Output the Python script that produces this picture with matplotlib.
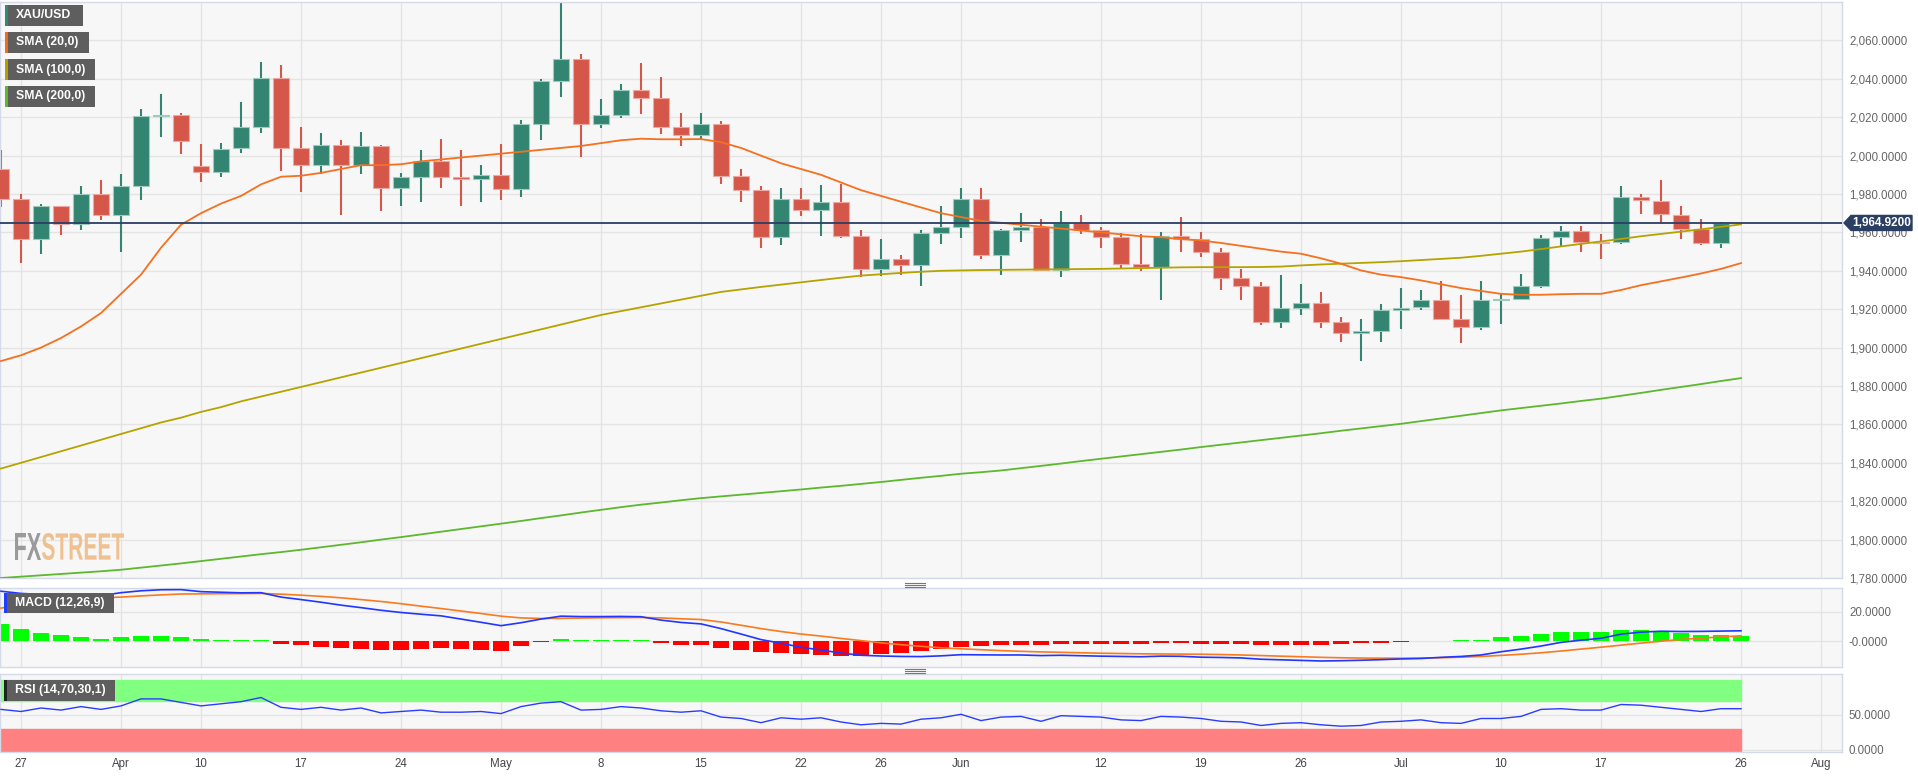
import numpy as np
import pandas as pd
import matplotlib
matplotlib.use('Agg')
import matplotlib.pyplot as plt
from matplotlib.patches import Rectangle, Polygon, PathPatch
from matplotlib.textpath import TextPath
from matplotlib.font_manager import FontProperties
from matplotlib.transforms import Affine2D, blended_transform_factory
from matplotlib.ticker import FuncFormatter

plt.rcParams['font.family'] = ['Liberation Sans', 'DejaVu Sans']

# trading days on the chart (Good Friday is missing)
days = pd.bdate_range('2023-03-24', '2023-08-01')
days = days[days != pd.Timestamp('2023-04-07')]

tick_dates = ['2023-03-27', '2023-04-03', '2023-04-10', '2023-04-17', '2023-04-24',
              '2023-05-01', '2023-05-08', '2023-05-15', '2023-05-22', '2023-05-26',
              '2023-06-01', '2023-06-12', '2023-06-19', '2023-06-26', '2023-07-03',
              '2023-07-10', '2023-07-17', '2023-07-26', '2023-08-01']
tick_labels = ['27', 'Apr', '10', '17', '24', 'May', '8', '15', '22', '26',
               'Jun', '12', '19', '26', 'Jul', '10', '17', '26', 'Aug']

# daily candles, Mar 24 .. Jul 25
opens = [1993.2, 1977.2, 1956.7, 1973.5, 1964.5, 1980.1, 1968.9, 1984.3, 2020.4, 2021.0,
         1994.4, 1991.4, 2003.8, 2014.9, 2040.2, 2004.1, 1995.1, 2005.3, 1995.1, 2004.8,
         1982.9, 1989.0, 1997.3, 1988.8, 1987.6, 1989.7, 1982.4, 2016.6, 2039.0, 2050.3,
         2016.6, 2021.1, 2034.3, 2030.0, 2015.0, 2010.7, 2016.4, 1989.5, 1982.0, 1957.5,
         1977.5, 1971.5, 1976.0, 1958.0, 1941.0, 1946.0, 1943.0, 1959.5, 1963.0, 1977.5,
         1948.0, 1961.0, 1963.0, 1940.5, 1965.0, 1961.0, 1957.5, 1943.5, 1942.0, 1958.0,
         1956.5, 1950.0, 1936.0, 1932.0, 1913.5, 1920.5, 1923.0, 1913.5, 1907.5, 1908.5,
         1919.5, 1921.4, 1924.6, 1915.0, 1910.7, 1924.6, 1925.1, 1932.0, 1957.4, 1960.5,
         1955.1, 1954.9, 1978.4, 1976.5, 1969.2, 1961.6, 1954.6]
highs = [2002.7, 1980.1, 1974.9, 1974.0, 1984.0, 1987.1, 1990.2, 2024.4, 2032.0, 2022.0,
         2006.2, 2006.7, 2027.9, 2048.7, 2047.0, 2014.9, 2011.7, 2007.9, 2012.1, 2005.3,
         1990.9, 2003.1, 2008.8, 2003.1, 1994.9, 2005.8, 2018.7, 2040.0, 2079.4, 2052.7,
         2029.3, 2037.1, 2048.2, 2040.7, 2022.0, 2022.0, 2017.8, 1993.0, 1984.0, 1983.0,
         1983.0, 1984.5, 1985.0, 1961.0, 1956.5, 1948.0, 1961.0, 1974.0, 1983.0, 1983.0,
         1962.0, 1970.0, 1967.0, 1971.0, 1969.0, 1963.0, 1959.5, 1959.0, 1960.0, 1968.0,
         1960.0, 1952.0, 1941.0, 1934.0, 1938.0, 1933.0, 1929.0, 1916.0, 1915.0, 1922.8,
         1931.0, 1930.1, 1934.5, 1927.2, 1934.5, 1928.0, 1938.1, 1958.8, 1963.1, 1963.1,
         1959.3, 1984.0, 1980.1, 1987.1, 1973.5, 1967.1, 1965.4]
lows = [1973.0, 1944.0, 1949.0, 1958.4, 1961.0, 1966.2, 1950.0, 1976.7, 2009.7, 2001.0,
        1986.2, 1988.8, 2001.5, 2012.0, 1992.0, 1981.0, 1990.5, 1968.9, 1990.2, 1971.1,
        1973.5, 1975.8, 1983.1, 1973.5, 1975.8, 1977.0, 1978.4, 2008.0, 2030.5, 1999.2,
        2014.3, 2019.5, 2021.6, 2011.4, 2005.0, 2008.0, 1985.0, 1975.6, 1952.0, 1953.6,
        1968.6, 1958.0, 1957.0, 1937.0, 1937.5, 1938.0, 1932.0, 1954.0, 1957.0, 1946.0,
        1938.0, 1955.0, 1940.0, 1937.0, 1959.0, 1952.0, 1941.0, 1940.0, 1925.0, 1950.0,
        1947.0, 1930.0, 1925.0, 1912.0, 1910.0, 1917.0, 1910.0, 1903.0, 1893.0, 1903.0,
        1909.8, 1919.7, 1914.2, 1902.4, 1909.3, 1912.4, 1924.6, 1931.0, 1952.2, 1950.0,
        1946.0, 1954.1, 1969.7, 1964.9, 1956.7, 1953.2, 1952.0]
closes = [1977.2, 1956.7, 1973.5, 1964.5, 1980.1, 1968.9, 1984.3, 2020.4, 2021.0, 2007.7,
          1991.4, 2003.6, 2014.9, 2040.2, 2004.1, 1995.1, 2005.3, 1995.1, 2004.8, 1982.9,
          1989.0, 1997.3, 1988.8, 1987.6, 1989.7, 1982.4, 2016.6, 2039.0, 2050.3, 2016.6,
          2021.1, 2034.3, 2030.0, 2015.0, 2010.7, 2016.4, 1989.5, 1982.0, 1957.5, 1977.5,
          1971.5, 1976.0, 1958.0, 1941.0, 1946.0, 1943.0, 1959.5, 1963.0, 1977.5, 1948.0,
          1961.0, 1963.0, 1940.5, 1965.0, 1961.0, 1957.5, 1943.5, 1942.0, 1958.0, 1956.5,
          1950.0, 1936.0, 1932.0, 1913.5, 1920.5, 1923.0, 1913.5, 1907.5, 1908.5, 1919.5,
          1920.8, 1924.6, 1915.0, 1910.7, 1924.6, 1925.0, 1931.9, 1957.2, 1960.5, 1955.1,
          1954.5, 1978.4, 1976.7, 1969.4, 1961.6, 1954.6, 1964.92]

# indicator lines, Mar 24 .. Jul 26
sma20 = [1893, 1896, 1900, 1905, 1911, 1918, 1928, 1938, 1952, 1964,
         1970, 1975, 1979, 1985, 1989, 1989.5, 1991, 1993, 1995, 1995,
         1995.5, 1997, 1998, 1999, 2000, 2001, 2002, 2003, 2004, 2005,
         2006.5, 2008, 2008.8, 2008.5, 2008.5, 2008.6, 2007, 2004, 2000, 1996,
         1993, 1990, 1986, 1982, 1979, 1976, 1973, 1970, 1968, 1966,
         1965, 1964, 1963, 1962, 1961, 1960, 1959, 1958, 1957.5, 1956.5,
         1955.8, 1954.5, 1953, 1951.5, 1950, 1948.9, 1946.5, 1943.7, 1940.2, 1938,
         1936.7, 1935, 1933, 1931, 1929.5, 1928, 1927.5, 1927.5, 1927.8, 1928,
         1928, 1930, 1932.5, 1934.5, 1936.5, 1938.6, 1941, 1944]
sma100 = [1837, 1840, 1843, 1846, 1849, 1852, 1855, 1858, 1861, 1863.5,
          1866.5, 1869, 1872, 1874.5, 1877, 1879.5, 1882, 1884.5, 1887, 1889.5,
          1892, 1894.5, 1897, 1899.5, 1902, 1904.5, 1907, 1909.5, 1912, 1914.5,
          1917, 1919, 1921, 1923, 1925, 1927, 1929, 1930.3, 1931.6, 1932.8,
          1934, 1935.2, 1936.4, 1937.5, 1938.2, 1938.9, 1939.5, 1940, 1940.2, 1940.4,
          1940.5, 1940.6, 1940.7, 1940.8, 1940.9, 1941, 1941.2, 1941.4, 1941.6, 1941.8,
          1941.9, 1941.9, 1941.9, 1942, 1942.2, 1942.8, 1943.3, 1943.7, 1944.1, 1944.5,
          1945, 1945.6, 1946.2, 1946.8, 1947.8, 1948.9, 1950, 1951.3, 1952.7, 1954,
          1955.3, 1956.6, 1958, 1959.2, 1960.4, 1961.6, 1962.9, 1964.2]
sma200 = [1780, 1780.7, 1781.4, 1782.1, 1782.8, 1783.5, 1784.3, 1785.4, 1786.5, 1787.6,
          1788.8, 1790, 1791.2, 1792.4, 1793.5, 1794.7, 1796, 1797.3, 1798.6, 1800,
          1801.3, 1802.7, 1804.1, 1805.5, 1806.9, 1808.3, 1809.7, 1811.2, 1812.6, 1814.1,
          1815.5, 1816.9, 1818.2, 1819.3, 1820.5, 1821.6, 1822.5, 1823.4, 1824.3, 1825.2,
          1826.1, 1827.1, 1828, 1829, 1830, 1831.1, 1832.2, 1833.2, 1834.3, 1835.1,
          1836, 1837.2, 1838.4, 1839.6, 1840.9, 1842.1, 1843.3, 1844.5, 1845.7, 1846.9,
          1848.2, 1849.4, 1850.6, 1851.8, 1853, 1854.2, 1855.4, 1856.7, 1857.9, 1859.1,
          1860.3, 1861.7, 1863.1, 1864.5, 1865.9, 1867.3, 1868.5, 1869.7, 1870.9, 1872.2,
          1873.4, 1874.9, 1876.4, 1878, 1879.5, 1881, 1882.6, 1884.1]

macd_line = [34, 32.5, 31.8, 31.3, 31, 31, 33, 34.3, 35, 35.1,
             33.7, 33.3, 32.9, 33, 30, 28.3, 26.5, 24.5, 22.8, 21,
             19.5, 18.3, 17.2, 15, 12.8, 10.5, 12.5, 15, 17, 16.7,
             16.7, 16.8, 16.6, 14.3, 12.7, 11.7, 8.5, 4.8, 1, -1.5,
             -4.2, -6.1, -8.2, -9.7, -10.2, -10.5, -10.6, -10.1, -9.3, -9.4,
             -9.5, -9.5, -9.9, -9.7, -10, -10.3, -10.5, -10.7, -10.3, -10.4,
             -11, -11.2, -11.5, -12.4, -12.8, -13.2, -13.6, -13.4, -13.1, -12.7,
             -12.2, -11.9, -11.1, -10.5, -9.5, -7.3, -5.5, -3.4, -0.9, 0.6,
             1.9, 4.7, 6.1, 6.7, 6.5, 6.6, 6.8, 7.0]
macd_signal = [22.5, 24.5, 26.3, 27.3, 28.5, 29.5, 30, 30.8, 31.5, 32.1,
               32.2, 32.3, 32.4, 32.5, 32, 31.3, 30.5, 29.5, 28.3, 27,
               25.5, 23.8, 22.2, 20.5, 18.8, 17, 15.8, 15.4, 15.5, 15.7,
               15.9, 16, 16.1, 15.8, 15.2, 14.7, 13, 10.8, 8.5, 6.5,
               4.8, 3.4, 1.8, 0.3, -1.2, -2.5, -3.6, -4.6, -5.3, -5.9,
               -6.5, -7, -7.4, -7.7, -8, -8.3, -8.5, -8.7, -8.8, -8.9,
               -9, -9.2, -9.5, -9.9, -10.3, -10.7, -11.1, -11.4, -11.6, -11.7,
               -11.7, -11.6, -11.4, -11, -10.5, -9.8, -9, -8, -6.8, -5.5,
               -4.2, -2.8, -1.4, -0.1, 1.1, 2, 2.8, 3.6]
macd_hist = [11.5, 8, 5.5, 4, 2.5, 1.5, 3, 3.5, 3.5, 3,
             1.5, 1, 0.5, 0.5, -2, -3, -4, -5, -5.5, -6,
             -6, -5.5, -5, -5.5, -6, -6.5, -3.3, -0.4, 1.5, 1,
             0.8, 0.8, 0.5, -1.5, -2.5, -3, -4.5, -6, -7.5, -8,
             -9, -9.5, -10, -10, -9, -8, -7, -5.5, -4, -3.5,
             -3, -2.5, -2.5, -2, -2, -2, -2, -2, -1.5, -1.5,
             -2, -2, -2, -2.5, -2.5, -2.5, -2.5, -2, -1.5, -1,
             -0.5, -0.3, 0.3, 0.5, 1, 2.5, 3.5, 4.6, 5.9, 6.1,
             6.1, 7.5, 7.5, 6.8, 5.2, 4.4, 3.8, 3.2]
rsi = [58, 55, 60, 57, 62, 58, 63, 73, 73, 68,
       63, 66, 69, 75, 61, 58, 61, 57, 60, 53,
       55, 57, 54, 54, 55, 52, 62, 67, 69, 57,
       58, 62, 60, 56, 54, 56, 47, 45, 39, 46,
       44, 46, 40, 36, 38, 37, 44, 46, 51, 42,
       47, 48, 41, 49, 48, 47, 43, 42, 48, 47,
       45, 41, 40, 35, 38, 39, 36, 34, 35, 40,
       41, 43, 39, 38, 45, 45, 48, 58, 59, 57,
       57, 65, 64, 61, 58, 55, 59, 59]

legend_items = [('XAU/USD', '#2e8b74'), ('SMA (20,0)', '#f26b1d'),
                ('SMA (100,0)', '#b5a000'), ('SMA (200,0)', '#5cb82e')]

W, H = 1918, 778
up_col, up_edge = '#338572', '#9fcbbf'
dn_col, dn_edge = '#d4574a', '#eeaaa2'
panel_bg = '#f7f7f7'
grid_col = '#e4e4e4'
border_col = '#d5dae9'


def box(top, bottom, left=0, right=1842):
    return [left / W, 1 - bottom / H, (right - left) / W, (bottom - top) / H]


fig = plt.figure(figsize=(W / 100, H / 100), dpi=100)
fig.patch.set_facecolor('white')
ax = fig.add_axes(box(2, 578))
ax_macd = fig.add_axes(box(588, 667), sharex=ax)
ax_rsi = fig.add_axes(box(674, 752), sharex=ax)

tick_pos = [days.get_loc(pd.Timestamp(d)) for d in tick_dates]
for a in (ax, ax_macd, ax_rsi):
    a.set_facecolor(panel_bg)
    for s in a.spines.values():
        s.set_color(border_col)
        s.set_linewidth(1)
    a.set_xticks(tick_pos)
    a.grid(True, color=grid_col, lw=1)
    a.set_axisbelow(True)
    a.yaxis.tick_right()
    a.tick_params(axis='both', length=0, labelsize=8.3, labelcolor='#666666', pad=5)
ax.set_xlim(-0.05, 92.05)
ax.tick_params(axis='x', labelbottom=False)
ax_macd.tick_params(axis='x', labelbottom=False)
ax_rsi.set_xticklabels(tick_labels)
ax_rsi.tick_params(axis='x', labelcolor='#444444', labelsize=8.3, pad=4)

# price panel
xc = np.arange(len(closes))
xl = np.arange(len(sma20))
for xi, o, h, l, c in zip(xc, opens, highs, lows, closes):
    up = c >= o
    col = up_col if up else dn_col
    ax.vlines(xi, l, h, color=col, lw=1.5, zorder=2)
    ax.add_patch(Rectangle((xi - 0.4, min(o, c)), 0.8, max(abs(c - o), 0.6),
                           fc=col, ec=up_edge if up else dn_edge, lw=0.8, zorder=3))
ax.plot(xl, sma200, color='#5cb82e', lw=1.3, zorder=4)
ax.plot(xl, sma100, color='#b5a300', lw=1.3, zorder=4)
ax.plot(xl, sma20, color='#f5701f', lw=1.3, zorder=4)
last = closes[-1]
ax.axhline(last, color='#2b3f63', lw=1.3, zorder=5)
ax.set_ylim(1780, 2080)
ax.set_yticks(np.arange(1780, 2061, 20))
ax.yaxis.set_major_formatter(FuncFormatter(lambda v, p: f'{v:,.4f}'))

# last price tag
tr = blended_transform_factory(fig.transFigure, ax.transData)
hh = 7.5 / 1.92
ax.add_patch(Polygon([(1844 / W, last), (1851 / W, last + hh), (1912 / W, last + hh),
                      (1912 / W, last - hh), (1851 / W, last - hh)],
                     closed=True, fc='#2b3f63', ec='#2b3f63', transform=tr,
                     clip_on=False, zorder=6))
ax.text(1882 / W, last, f'{last:,.4f}', transform=tr, ha='center', va='center',
        color='white', fontsize=8.5, fontweight='bold', zorder=7, clip_on=False)

# watermark
fp = FontProperties(family=['Liberation Sans Narrow', 'Liberation Sans'], weight='bold')
for s, x0, x1, col in [('FX', 15, 41, '#9a9a9a'), ('STREET', 42, 124, '#efc190')]:
    tp = TextPath((0, 0), s, size=10, prop=fp)
    bb = tp.get_extents()
    t = (Affine2D().translate(-bb.x0, -bb.y0)
         .scale((x1 - x0) / bb.width, 27 / bb.height)
         .translate(x0, H - 560).scale(1 / W, 1 / H))
    ax.add_patch(PathPatch(t.transform_path(tp), fc=col, ec='none',
                           transform=fig.transFigure, zorder=1, clip_on=False))

# MACD panel
ax_macd.bar(xl, macd_hist, width=0.8,
            color=['#00ff00' if v >= 0 else '#ff0000' for v in macd_hist], zorder=2)
ax_macd.plot(xl, macd_signal, color='#f97a1f', lw=1.2, zorder=3)
ax_macd.plot(xl, macd_line, color='#2236ff', lw=1.2, zorder=3)
ax_macd.set_ylim(-17.7, 36.2)
ax_macd.set_yticks([20, 0])
ax_macd.set_yticklabels(['20.0000', '-0.0000'])

# RSI panel
rsi_lo, rsi_hi = -2.9, 108.6
ax_rsi.fill_between([-0.05, xl[-1]], 70, 100, color='#80ff80', zorder=1)
ax_rsi.fill_between([-0.05, xl[-1]], rsi_lo, 30, color='#ff8080', zorder=1)
ax_rsi.plot(xl, rsi, color='#2a3cff', lw=1, zorder=3)
ax_rsi.set_ylim(rsi_lo, rsi_hi)
ax_rsi.set_yticks([50, 0])
ax_rsi.set_yticklabels(['50.0000', '0.0000'])


def tag(x0, y0, w, h, text, stripe):
    fig.add_artist(Rectangle((x0 / W, 1 - (y0 + h) / H), w / W, h / H,
                             transform=fig.transFigure, fc='#5e5e5e', ec='none', zorder=10))
    fig.add_artist(Rectangle((x0 / W, 1 - (y0 + h) / H), 2.5 / W, h / H,
                             transform=fig.transFigure, fc=stripe, ec='none', zorder=11))
    fig.text((x0 + 11) / W, 1 - (y0 + h / 2) / H, text, color='white', fontsize=8.8,
             fontweight='bold', va='center', ha='left', zorder=12)


for i, (name, col) in enumerate(legend_items):
    tag(5, 5 + 27 * i, 78 + [0, 6, 12, 12][i], 21, name, col)
tag(4, 593, 110, 20, 'MACD (12,26,9)', '#1f3dff')
tag(4, 680, 111, 21, 'RSI (14,70,30,1)', '#222222')

# panel resize handles
for yc in (584.5, 670.5):
    for dy in (-2, 0, 2):
        fig.add_artist(plt.Line2D([905 / W, 925 / W], [1 - (yc + dy) / H] * 2,
                                  transform=fig.transFigure, color='#777777', lw=0.8))

fig.savefig('out.png', dpi=100, facecolor='white')
